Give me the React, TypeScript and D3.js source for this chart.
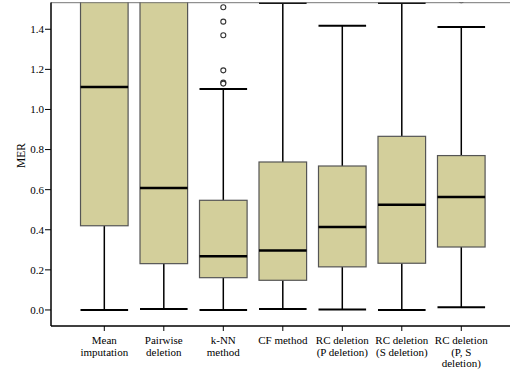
import React from "react";
import * as d3 from "d3";

const categories = ["Mean imputation", "Pairwise deletion", "k-NN method", "CF method", "RC deletion (P deletion)", "RC deletion (S deletion)", "RC deletion (P, S deletion)"];
const categoryLines = [["Mean", "imputation"], ["Pairwise", "deletion"], ["k-NN", "method"], ["CF method"], ["RC deletion", "(P deletion)"], ["RC deletion", "(S deletion)"], ["RC deletion", "(P, S", "deletion)"]];
const lowWhisker = [0.0, 0.005, 0.0, 0.005, 0.002, 0.0, 0.013];
const q1 = [0.42, 0.231, 0.161, 0.148, 0.215, 0.233, 0.314];
const median = [1.112, 0.608, 0.268, 0.296, 0.414, 0.525, 0.564];
const q3 = [1.9, 1.8, 0.547, 0.738, 0.718, 0.866, 0.77];
const highWhisker = [2.5, 2.4, 1.102, 1.531, 1.418, 1.531, 1.411];
const outliers: number[][] = [[], [], [1.51, 1.438, 1.37, 1.195, 1.134, 1.129], [], [], [], [1.545]];
const yTicks = [0.0, 0.2, 0.4, 0.6, 0.8, 1.0, 1.2, 1.4];

const W = 510, H = 373;
const left = 51, top = 3, bottom = 326, right = 510;

export default function App() {
  const y = d3.scaleLinear().domain([-0.08, 1.531]).range([bottom, top]);
  const x = d3.scalePoint<string>().domain(categories).range([left, 514.6]).padding(0.896);
  const step = x.step();
  const bw = step * 0.8;
  const textStyle = { fontFamily: "Liberation Serif, serif", fontSize: "11px" };
  return (
    <svg width={W} height={H} style={{ position: "absolute", left: 0, top: 0 }}>
      <defs>
        <clipPath id="plotclip">
          <rect x={left} y={2} width={right - left} height={bottom - 2} />
        </clipPath>
      </defs>
      <rect x={0} y={0} width={W} height={H} fill="#fff" />
      <g clipPath="url(#plotclip)">
        {categories.map((c, i) => {
          const cx = x(c)!;
          return (
            <g key={c}>
              <line x1={cx} x2={cx} y1={y(lowWhisker[i])} y2={y(q1[i])} stroke="#000" strokeWidth={1.5} />
              <line x1={cx} x2={cx} y1={y(q3[i])} y2={y(highWhisker[i])} stroke="#000" strokeWidth={1.5} />
              <line x1={cx - bw / 2} x2={cx + bw / 2} y1={y(lowWhisker[i])} y2={y(lowWhisker[i])} stroke="#000" strokeWidth={2} />
              <line x1={cx - bw / 2} x2={cx + bw / 2} y1={y(highWhisker[i])} y2={y(highWhisker[i])} stroke="#000" strokeWidth={2} />
              <rect x={cx - bw / 2} y={y(q3[i])} width={bw} height={y(q1[i]) - y(q3[i])} fill="#d3cf9b" stroke="#555" strokeWidth={1.2} />
              <line x1={cx - bw / 2} x2={cx + bw / 2} y1={y(median[i])} y2={y(median[i])} stroke="#000" strokeWidth={2.5} />
              {outliers[i].map((v, j) => (
                <circle key={j} cx={cx} cy={y(v)} r={2.5} fill="#fff" stroke="#333" strokeWidth={1.1} />
              ))}
            </g>
          );
        })}
      </g>
      <line x1={left} x2={right} y1={2.7} y2={2.7} stroke="#777" strokeWidth={1} />
      <line x1={left} x2={left} y1={2.5} y2={bottom} stroke="#000" strokeWidth={1.5} />
      <line x1={left} x2={right} y1={bottom} y2={bottom} stroke="#000" strokeWidth={1.5} />
      {yTicks.map((t) => (
        <g key={t}>
          <line x1={left - 6} x2={left} y1={y(t)} y2={y(t)} stroke="#000" strokeWidth={1} />
          <text x={left - 7} y={y(t)} dy="0.35em" textAnchor="end" style={textStyle} fill="#000">{t.toFixed(1)}</text>
        </g>
      ))}
      {categories.map((c, i) => {
        const cx = x(c)!;
        return (
          <g key={c}>
            <line x1={cx} x2={cx} y1={bottom} y2={bottom + 5} stroke="#000" strokeWidth={1} />
            {categoryLines[i].map((l, j) => (
              <text key={j} x={cx} y={344 + j * 11.7} textAnchor="middle" style={textStyle} fill="#000">{l}</text>
            ))}
          </g>
        );
      })}
      <text transform={`translate(25,${y(0.77)}) rotate(-90)`} textAnchor="middle" style={{ ...textStyle, fontSize: "11.5px" }} fill="#000">MER</text>
    </svg>
  );
}
